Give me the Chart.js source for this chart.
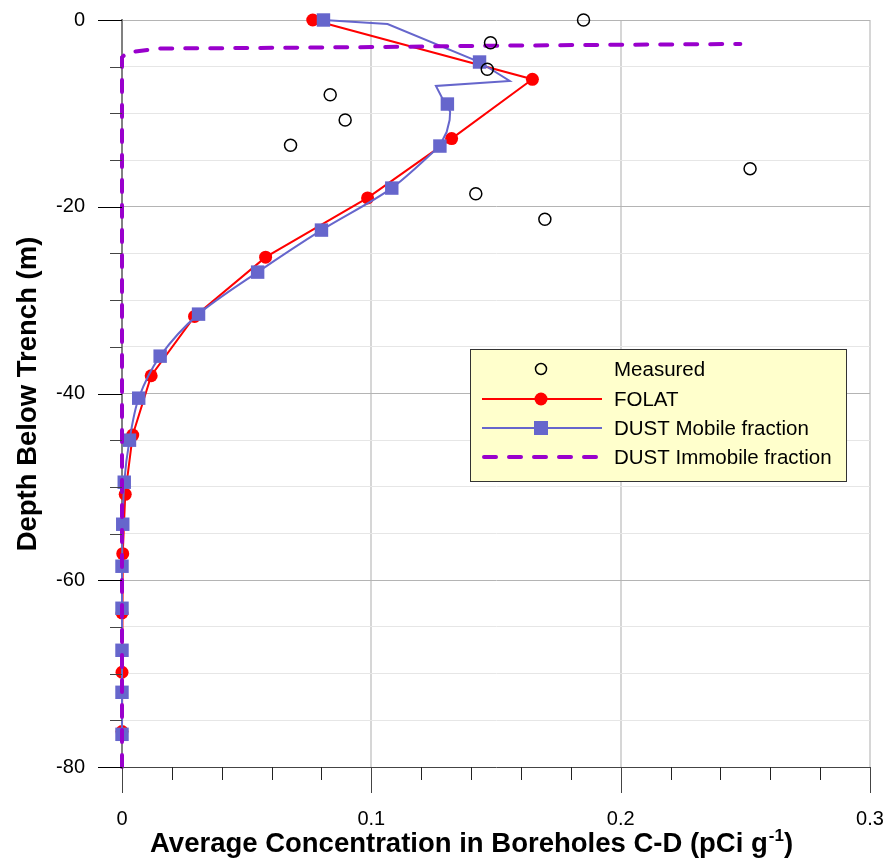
<!DOCTYPE html>
<html>
<head>
<meta charset="utf-8">
<script src="https://cdn.jsdelivr.net/npm/chart.js@4.4.0/dist/chart.umd.min.js"></script>
<style>
  html, body { margin: 0; padding: 0; background: #fff; }
  canvas { display: block; }
</style>
</head>
<body>
<canvas id="depth_chart" width="885" height="858"></canvas>
<script>
// measured concentrations
var measuredConc = [0.1851, 0.1478, 0.1465, 0.0835, 0.0895, 0.0676, 0.2519, 0.1419, 0.1696];
var measuredDepth = [0, -2.43, -5.28, -8.0, -10.71, -13.42, -15.92, -18.6, -21.34];

// FOLAT model
var folatConc = [0.0765, 0.1646, 0.1322, 0.0985, 0.0576, 0.0291, 0.0117, 0.0043, 0.0013, 0.0003, 0, 0, 0];
var folatDepth = [0, -6.35, -12.7, -19.05, -25.4, -31.75, -38.1, -44.45, -50.8, -57.15, -63.5, -69.85, -76.2];

// DUST mobile fraction, marker nodes
var dustConc = [0.0808, 0.1434, 0.1305, 0.1275, 0.1082, 0.0800, 0.0544, 0.0307, 0.0153, 0.0067, 0.0030, 0.0009, 0.0003, 0, 0, 0, 0, 0];
var dustDepth = [0, -4.5, -9.0, -13.5, -18.0, -22.5, -27.0, -31.5, -36.0, -40.5, -45.0, -49.5, -54.0, -58.5, -63.0, -67.5, -72.0, -76.5];

// DUST mobile fraction, full curve near the top
var dustTopConc = [0.0808, 0.1065, 0.1434, 0.1555, 0.1259, 0.1286, 0.1305, 0.1316, 0.1314, 0.1302, 0.1286, 0.1275];
var dustTopDepth = [0, -0.43, -4.5, -6.53, -7.07, -8.46, -9.03, -9.85, -10.71, -12.0, -12.85, -13.5];

// DUST immobile fraction
var immConc = [0, 0, 0.002, 0.015, 0.05, 0.1, 0.15, 0.2, 0.248];
var immDepth = [-80, -4.0, -3.5, -3.05, -3.0, -2.9, -2.75, -2.65, -2.57];

var xTicks = [0, 0.1, 0.2, 0.3];
var yTicks = [0, -20, -40, -60, -80];

var RED = '#ff0000';
var BLUE = '#6666cc';
var PURPLE = '#9900cc';
var FONT = "'Liberation Sans', Arial, sans-serif";

function pts(xs, ys) {
    var out = [];
    for (var i = 0; i < xs.length; i++) out.push({x: xs[i], y: ys[i]});
    return out;
}

var dustLow = pts(dustConc.slice(3), dustDepth.slice(3));

var decorations = {
    id: 'decorations',
    afterDraw(chart) {
        var ctx = chart.ctx, a = chart.chartArea, x = chart.scales.x, y = chart.scales.y;
        ctx.save();
        ctx.lineWidth = 1;
        // y ticks
        y.ticks.forEach(function (t) {
            var py = Math.round(y.getPixelForValue(t.value)) + 0.5;
            var major = yTicks.indexOf(Math.round(t.value)) >= 0;
            ctx.strokeStyle = major ? '#000' : '#444';
            ctx.beginPath();
            ctx.moveTo(a.left - (major ? 24 : 12), py);
            ctx.lineTo(a.left, py);
            ctx.stroke();
        });
        // x ticks
        x.ticks.forEach(function (t) {
            var px = Math.round(x.getPixelForValue(t.value)) + 0.5;
            var major = Math.round(t.value * 100) % 10 === 0;
            ctx.strokeStyle = major ? '#444' : '#222';
            ctx.beginPath();
            ctx.moveTo(px, a.bottom);
            ctx.lineTo(px, a.bottom + (major ? 26 : 13));
            ctx.stroke();
        });

        // axis titles
        ctx.fillStyle = '#000';
        ctx.font = 'bold 27.5px ' + FONT;
        ctx.textBaseline = 'alphabetic';
        ctx.textAlign = 'left';
        var s1 = 'Average Concentration in Boreholes C-D (pCi g';
        var tx = 150, ty = 852;
        ctx.fillText(s1, tx, ty);
        tx += ctx.measureText(s1).width;
        ctx.font = 'bold 17px ' + FONT;
        ctx.fillText('-1', tx + 1, ty - 11);
        tx += ctx.measureText('-1').width + 1;
        ctx.font = 'bold 27.5px ' + FONT;
        ctx.fillText(')', tx, ty);

        ctx.save();
        ctx.translate(36, 394);
        ctx.rotate(-Math.PI / 2);
        ctx.textAlign = 'center';
        ctx.fillText('Depth Below Trench (m)', 0, 0);
        ctx.restore();

        // legend box
        var lx = 470.5, ly = 349.5, lw = 376, lh = 132;
        ctx.fillStyle = '#ffffcc';
        ctx.fillRect(lx, ly, lw, lh);
        ctx.strokeStyle = '#333';
        ctx.strokeRect(lx, ly, lw, lh);

        var rows = [
            {label: 'Measured', y: 369},
            {label: 'FOLAT', y: 399},
            {label: 'DUST Mobile fraction', y: 428},
            {label: 'DUST Immobile fraction', y: 457}
        ];
        var x0 = 482, x1 = 602, xm = 541;
        // measured
        ctx.strokeStyle = '#000';
        ctx.lineWidth = 1.5;
        ctx.beginPath();
        ctx.arc(xm, rows[0].y, 5.5, 0, Math.PI * 2);
        ctx.stroke();
        // folat
        ctx.strokeStyle = RED;
        ctx.lineWidth = 2;
        ctx.beginPath(); ctx.moveTo(x0, rows[1].y); ctx.lineTo(x1, rows[1].y); ctx.stroke();
        ctx.fillStyle = RED;
        ctx.beginPath(); ctx.arc(xm, rows[1].y, 6.5, 0, Math.PI * 2); ctx.fill();
        // dust mobile
        ctx.strokeStyle = BLUE;
        ctx.beginPath(); ctx.moveTo(x0, rows[2].y); ctx.lineTo(x1, rows[2].y); ctx.stroke();
        ctx.fillStyle = BLUE;
        ctx.fillRect(xm - 7, rows[2].y - 7, 14, 14);
        // dust immobile
        ctx.strokeStyle = PURPLE;
        ctx.lineWidth = 4;
        ctx.lineCap = 'round';
        ctx.setLineDash([12, 13]);
        ctx.beginPath(); ctx.moveTo(x0 + 2, rows[3].y); ctx.lineTo(x1, rows[3].y); ctx.stroke();
        ctx.setLineDash([]);
        ctx.lineCap = 'butt';

        ctx.fillStyle = '#000';
        ctx.font = '20.5px ' + FONT;
        ctx.textBaseline = 'middle';
        rows.forEach(function (r) { ctx.fillText(r.label, 614, r.y + 1); });
        ctx.restore();
    }
};

var chart = new Chart(document.getElementById('depth_chart').getContext('2d'), {
    type: 'scatter',
    data: {
        datasets: [
            {
                label: 'Measured',
                data: pts(measuredConc, measuredDepth),
                showLine: false,
                pointStyle: 'circle',
                pointRadius: 6,
                pointBackgroundColor: 'rgba(255,255,255,0)',
                pointBorderColor: '#000',
                pointBorderWidth: 1.5,
                clip: false,
                order: 0
            },
            {
                label: 'DUST Immobile fraction',
                data: pts(immConc, immDepth),
                showLine: true,
                borderColor: PURPLE,
                borderWidth: 4,
                borderDash: [12, 13],
                borderCapStyle: 'round',
                pointRadius: 0,
                tension: 0,
                clip: false,
                order: 1
            },
            {
                label: 'DUST Mobile fraction',
                data: pts(dustConc, dustDepth),
                showLine: false,
                pointStyle: 'rect',
                pointRadius: 9.5,
                pointBackgroundColor: BLUE,
                pointBorderColor: BLUE,
                pointBorderWidth: 0,
                clip: false,
                order: 2
            },
            {
                label: 'dust top curve',
                data: pts(dustTopConc, dustTopDepth),
                showLine: true,
                borderColor: BLUE,
                borderWidth: 2,
                pointRadius: 0,
                tension: 0,
                clip: false,
                order: 3
            },
            {
                label: 'dust lower curve',
                data: dustLow,
                showLine: true,
                borderColor: BLUE,
                borderWidth: 2,
                pointRadius: 0,
                tension: 0.3,
                clip: false,
                order: 3
            },
            {
                label: 'FOLAT',
                data: pts(folatConc, folatDepth),
                showLine: true,
                borderColor: RED,
                borderWidth: 2,
                pointStyle: 'circle',
                pointRadius: 6.5,
                pointBackgroundColor: RED,
                pointBorderColor: RED,
                pointBorderWidth: 0,
                tension: 0,
                clip: false,
                order: 4
            }
        ]
    },
    options: {
        responsive: false,
        animation: false,
        devicePixelRatio: 1,
        layout: { padding: { left: 0, right: 15, top: 20, bottom: 0 } },
        plugins: {
            legend: { display: false },
            tooltip: { enabled: false }
        },
        scales: {
            x: {
                type: 'linear',
                min: 0,
                max: 0.3,
                afterFit: function (s) {
                    s.height = 91;
                    s.paddingLeft = 0; s.paddingRight = 0;
                },
                ticks: {
                    stepSize: 0.02,
                    autoSkip: false,
                    maxRotation: 0,
                    padding: 40,
                    color: '#000',
                    font: { family: FONT, size: 20 },
                    callback: function (v) {
                        var k = Math.round(v * 100);
                        return k % 10 === 0 ? String(k / 100) : '';
                    }
                },
                grid: {
                    drawTicks: false,
                    lineWidth: 2,
                    color: function (c) {
                        if (!c.tick) return 'rgba(0,0,0,0)';
                        var k = Math.round(c.tick.value * 100);
                        if (k === 0) return 'rgba(0,0,0,0)';
                        return k % 10 === 0 ? '#d6d6d6' : 'rgba(0,0,0,0)';
                    }
                },
                border: { display: true, color: '#444', width: 1 }
            },
            y: {
                type: 'linear',
                min: -80,
                max: 0,
                afterFit: function (s) {
                    s.width = 122;
                    s.paddingTop = 0; s.paddingBottom = 0;
                },
                ticks: {
                    stepSize: 5,
                    autoSkip: false,
                    padding: 37,
                    color: '#000',
                    font: { family: FONT, size: 20 },
                    callback: function (v) {
                        return yTicks.indexOf(Math.round(v)) >= 0 ? String(Math.round(v)) : '';
                    }
                },
                grid: {
                    drawTicks: false,
                    lineWidth: 1,
                    color: function (c) {
                        if (!c.tick) return 'rgba(0,0,0,0)';
                        var v = Math.round(c.tick.value);
                        if (v === -80) return 'rgba(0,0,0,0)';
                        return yTicks.indexOf(v) >= 0 ? '#b4b4b4' : '#e6e6e6';
                    }
                },
                border: { display: true, color: '#808080', width: 2 }
            }
        }
    },
    plugins: [decorations]
});
</script>
</body>
</html>
